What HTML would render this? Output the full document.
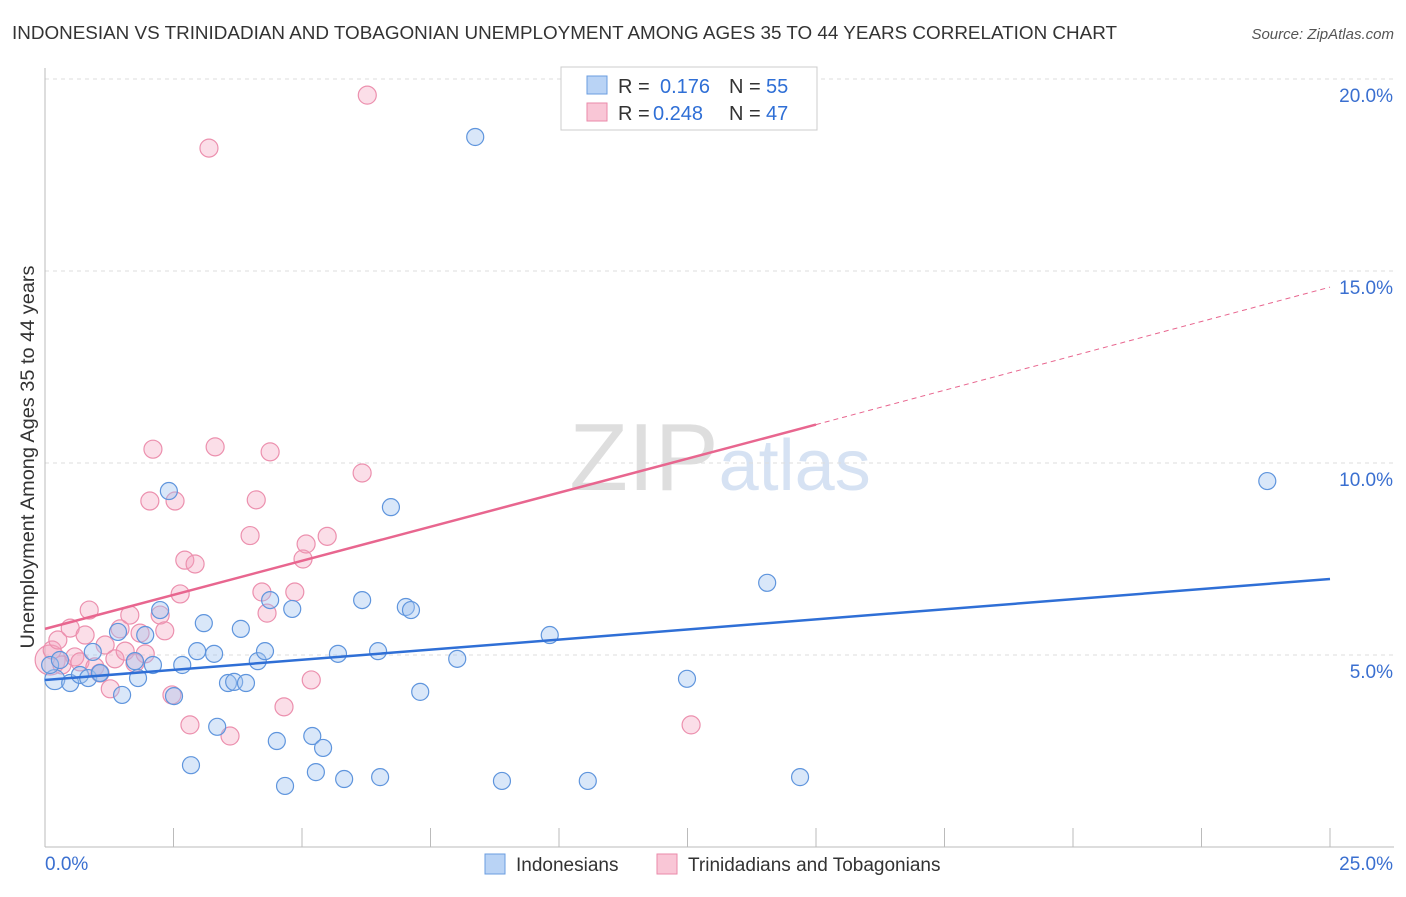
<!DOCTYPE html>
<html><head><meta charset="utf-8"><style>
body{margin:0;background:#fff;font-family:"Liberation Sans",sans-serif;}
svg text{font-family:"Liberation Sans",sans-serif;}
</style></head><body>
<svg id="chart" width="1406" height="892" xmlns="http://www.w3.org/2000/svg">
<text x="12" y="39" font-size="18" fill="#333" textLength="1105" lengthAdjust="spacingAndGlyphs">INDONESIAN VS TRINIDADIAN AND TOBAGONIAN UNEMPLOYMENT AMONG AGES 35 TO 44 YEARS CORRELATION CHART</text>
<text x="1394" y="39" font-size="15" fill="#555" text-anchor="end" font-style="italic">Source: ZipAtlas.com</text>
<text x="720" y="490" font-size="96" fill="#ddd" text-anchor="middle" font-family="Liberation Serif"><tspan fill="#dedede">ZIP</tspan><tspan fill="#d6e2f3" font-family="Liberation Sans" font-size="72">atlas</tspan></text>
<g id="grid"></g><g id="axes"></g><g id="pts"></g><g id="lines"></g>
<g>
<rect x="561" y="67" width="256" height="63" fill="#fff" stroke="#ccc"/>
<rect x="587" y="76" width="20" height="18" fill="#b9d3f5" stroke="#6a9de0"/>
<rect x="587" y="103" width="20" height="18" fill="#f9c6d6" stroke="#ea8aaa"/>
<text x="618" y="93" font-size="20" fill="#333">R =</text>
<text x="660" y="93" font-size="20" fill="#2f6fd6">0.176</text>
<text x="729" y="93" font-size="20" fill="#333">N =</text>
<text x="766" y="93" font-size="20" fill="#2f6fd6">55</text>
<text x="618" y="120" font-size="20" fill="#333">R =</text>
<text x="653" y="120" font-size="20" fill="#2f6fd6">0.248</text>
<text x="729" y="120" font-size="20" fill="#333">N =</text>
<text x="766" y="120" font-size="20" fill="#2f6fd6">47</text>
</g>
<g>
<rect x="485" y="854" width="20" height="20" fill="#b9d3f5" stroke="#6a9de0"/>
<text x="516" y="871" font-size="19" fill="#333">Indonesians</text>
<rect x="657" y="854" width="20" height="20" fill="#f9c6d6" stroke="#ea8aaa"/>
<text x="688" y="871" font-size="19" fill="#333">Trinidadians and Tobagonians</text>
</g>
<text transform="translate(34,457) rotate(-90)" font-size="19" fill="#333" text-anchor="middle" textLength="383" lengthAdjust="spacingAndGlyphs">Unemployment Among Ages 35 to 44 years</text>
</svg>
<script>
const yTicks=[5,10,15,20];
const yTickLabels=["5.0%","10.0%","15.0%","20.0%"];
const blueX=[0.19,0.49,0.68,0.84,0.93,1.07,1.42,1.5,1.81,1.95,2.1,2.24,2.41,2.51,2.67,2.84,2.96,3.09,3.29,3.35,3.56,3.68,3.81,3.91,4.14,4.28,4.38,4.51,4.67,4.81,5.2,5.27,5.41,5.7,5.82,6.17,6.48,6.52,6.73,7.02,7.12,7.3,8.02,8.37,8.89,9.82,10.56,12.49,14.05,14.69,23.78,0.1,0.29,1.07,1.75];
const blueY=[4.36,4.27,4.48,4.4,5.08,4.53,5.6,3.96,4.4,5.52,4.74,6.17,9.27,3.93,4.74,2.13,5.1,5.83,5.03,3.13,4.27,4.3,5.68,4.27,4.84,5.1,6.43,2.76,1.59,6.2,2.89,1.95,2.58,5.03,1.77,6.43,5.1,1.82,8.85,6.25,6.17,4.04,4.9,18.49,1.72,5.52,1.72,4.38,6.88,1.82,9.53,4.74,4.87,4.53,4.84];
const pinkX=[0.1,0.14,0.25,0.33,0.49,0.58,0.68,0.78,0.86,0.97,1.07,1.17,1.27,1.36,1.46,1.56,1.65,1.75,1.85,1.95,2.04,2.1,2.24,2.33,2.47,2.53,2.63,2.72,2.82,2.92,3.19,3.31,3.6,3.99,4.11,4.22,4.32,4.38,4.65,4.86,5.02,5.08,5.18,5.49,6.17,6.27,12.57];
const pinkY=[4.87,5.13,5.39,4.74,5.7,4.95,4.82,5.52,6.17,4.69,4.53,5.26,4.12,4.9,5.68,5.1,6.04,4.79,5.57,5.03,9.01,10.36,6.04,5.63,3.96,9.01,6.59,7.47,3.18,7.37,18.2,10.42,2.89,8.11,9.04,6.64,6.09,10.29,3.65,6.64,7.5,7.89,4.35,8.09,9.74,19.58,3.18];
const X=v=>45+v*51.4, Y=v=>847-v*38.4;
const NS="http://www.w3.org/2000/svg";
function mk(t,a,p){const e=document.createElementNS(NS,t);for(const k in a)e.setAttribute(k,a[k]);document.getElementById(p).appendChild(e);return e;}
yTicks.forEach((t,i)=>{
 const g=mk('line',{x1:45,x2:1394,y1:Y(t),y2:Y(t),stroke:'#ddd','stroke-dasharray':'4,4'},'grid');
 
 
 const tx=mk('text',{x:1393,y:Y(t)+23,'font-size':19,fill:'#3a6fd0','text-anchor':'end'},'axes');
 tx.textContent=yTickLabels[i];
 
 
});
const ax=mk('line',{x1:45,x2:45,y1:68,y2:847,stroke:'#bbb'},'axes');


const bx=mk('line',{x1:45,x2:1394,y1:847,y2:847,stroke:'#bbb'},'axes');


for(let i=1;i<=10;i++){const tk=mk('line',{x1:X(i*2.5),x2:X(i*2.5),y1:828,y2:847,stroke:'#bbb'},'axes');
 
 }
const l0=mk('text',{x:45,y:870,'font-size':19,fill:'#3a6fd0'},'axes');l0.textContent='0.0%';


const l1=mk('text',{x:1393,y:870,'font-size':19,fill:'#3a6fd0','text-anchor':'end'},'axes');l1.textContent='25.0%';


pinkX.forEach((x,i)=>{const c=mk('circle',{cx:X(x),cy:Y(pinkY[i]),r:i==0?15:9,fill:'rgba(244,160,188,0.35)',stroke:'#ec90ae','stroke-width':1.2},'pts');
 
 });
blueX.forEach((x,i)=>{const c=mk('circle',{cx:X(x),cy:Y(blueY[i]),r:i==0?10:8.5,fill:'rgba(160,196,240,0.4)',stroke:'#5f95dd','stroke-width':1.2},'pts');
 
 });
const bl=mk('line',{x1:X(0),y1:Y(4.35),x2:X(25),y2:Y(6.98),stroke:'#2f6fd6','stroke-width':2.5},'lines');


const pl=mk('line',{x1:X(0),y1:Y(5.68),x2:X(15),y2:Y(11.0),stroke:'#e8668f','stroke-width':2.5},'lines');


const pd=mk('line',{x1:X(15),y1:Y(11.0),x2:X(25),y2:Y(14.58),stroke:'#e8668f','stroke-width':1,'stroke-dasharray':'5,4'},'lines');


</script>
</body></html>
